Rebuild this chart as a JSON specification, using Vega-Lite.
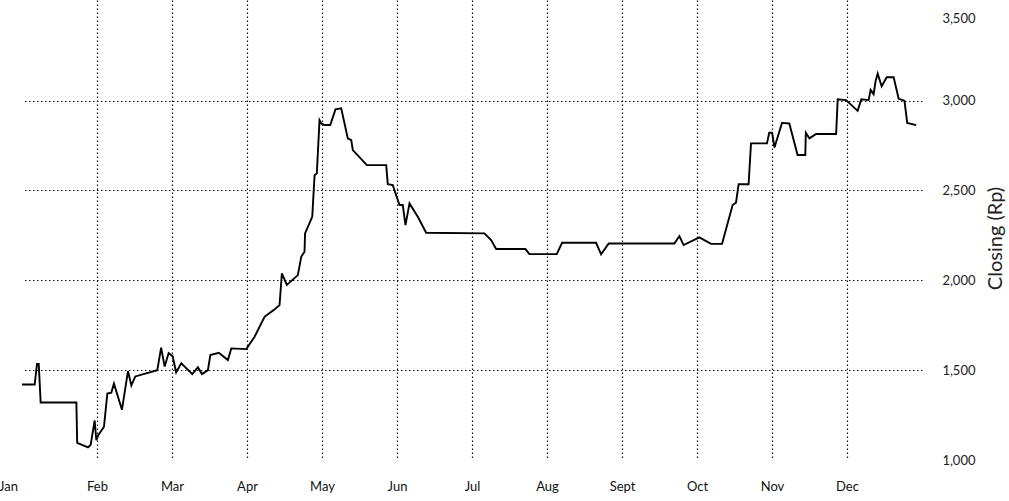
{
  "$schema": "https://vega.github.io/schema/vega-lite/v6.json",
  "width": 900,
  "height": 460,
  "autosize": {"type": "none"},
  "padding": {"left": 22, "top": 0, "right": 87, "bottom": 41},
  "background": "white",
  "config": {"view": {"stroke": null}, "font": "Lato"},
  "data": {"values": [
    {"month": 0.000, "close": 1420}, {"month": 0.169, "close": 1420}, {"month": 0.200, "close": 1535}, {"month": 0.223, "close": 1535},
    {"month": 0.249, "close": 1320}, {"month": 0.725, "close": 1320}, {"month": 0.736, "close": 1095}, {"month": 0.880, "close": 1070},
    {"month": 0.916, "close": 1085}, {"month": 0.969, "close": 1220}, {"month": 0.991, "close": 1110}, {"month": 1.013, "close": 1135},
    {"month": 1.093, "close": 1185}, {"month": 1.138, "close": 1370}, {"month": 1.191, "close": 1375}, {"month": 1.226, "close": 1425},
    {"month": 1.333, "close": 1280}, {"month": 1.413, "close": 1495}, {"month": 1.458, "close": 1415}, {"month": 1.511, "close": 1465},
    {"month": 1.804, "close": 1500}, {"month": 1.855, "close": 1625}, {"month": 1.902, "close": 1520}, {"month": 1.955, "close": 1595},
    {"month": 2.008, "close": 1578}, {"month": 2.055, "close": 1488}, {"month": 2.124, "close": 1538}, {"month": 2.271, "close": 1478},
    {"month": 2.345, "close": 1516}, {"month": 2.399, "close": 1478}, {"month": 2.479, "close": 1500}, {"month": 2.511, "close": 1584},
    {"month": 2.625, "close": 1597}, {"month": 2.745, "close": 1556}, {"month": 2.790, "close": 1621}, {"month": 2.990, "close": 1617},
    {"month": 3.101, "close": 1686}, {"month": 3.234, "close": 1797}, {"month": 3.265, "close": 1807}, {"month": 3.354, "close": 1834},
    {"month": 3.434, "close": 1862}, {"month": 3.465, "close": 2039}, {"month": 3.531, "close": 1974}, {"month": 3.678, "close": 2029},
    {"month": 3.723, "close": 2131}, {"month": 3.767, "close": 2159}, {"month": 3.774, "close": 2261}, {"month": 3.870, "close": 2354},
    {"month": 3.901, "close": 2585}, {"month": 3.931, "close": 2595}, {"month": 3.967, "close": 2891}, {"month": 3.990, "close": 2873},
    {"month": 4.034, "close": 2864}, {"month": 4.110, "close": 2864}, {"month": 4.180, "close": 2951}, {"month": 4.256, "close": 2957},
    {"month": 4.344, "close": 2790}, {"month": 4.390, "close": 2780}, {"month": 4.411, "close": 2725}, {"month": 4.598, "close": 2641},
    {"month": 4.856, "close": 2641}, {"month": 4.877, "close": 2535}, {"month": 4.944, "close": 2530}, {"month": 5.033, "close": 2419},
    {"month": 5.077, "close": 2419}, {"month": 5.113, "close": 2307}, {"month": 5.167, "close": 2428}, {"month": 5.277, "close": 2354},
    {"month": 5.389, "close": 2265}, {"month": 6.166, "close": 2261}, {"month": 6.255, "close": 2224}, {"month": 6.322, "close": 2174},
    {"month": 6.712, "close": 2174}, {"month": 6.766, "close": 2146}, {"month": 7.130, "close": 2146}, {"month": 7.201, "close": 2209},
    {"month": 7.655, "close": 2209}, {"month": 7.721, "close": 2145}, {"month": 7.823, "close": 2205}, {"month": 8.698, "close": 2205},
    {"month": 8.765, "close": 2246}, {"month": 8.822, "close": 2196}, {"month": 9.031, "close": 2239}, {"month": 9.187, "close": 2203},
    {"month": 9.334, "close": 2203}, {"month": 9.475, "close": 2419}, {"month": 9.520, "close": 2432}, {"month": 9.555, "close": 2535},
    {"month": 9.688, "close": 2535}, {"month": 9.720, "close": 2762}, {"month": 9.933, "close": 2762}, {"month": 9.963, "close": 2821},
    {"month": 10.002, "close": 2821}, {"month": 10.033, "close": 2739}, {"month": 10.077, "close": 2799}, {"month": 10.133, "close": 2876},
    {"month": 10.231, "close": 2873}, {"month": 10.341, "close": 2697}, {"month": 10.444, "close": 2697}, {"month": 10.451, "close": 2821},
    {"month": 10.499, "close": 2790}, {"month": 10.588, "close": 2814}, {"month": 10.855, "close": 2814}, {"month": 10.876, "close": 3007},
    {"month": 10.988, "close": 3003}, {"month": 11.142, "close": 2943}, {"month": 11.190, "close": 3007}, {"month": 11.288, "close": 3003},
    {"month": 11.315, "close": 3060}, {"month": 11.355, "close": 3036}, {"month": 11.382, "close": 3110}, {"month": 11.409, "close": 3150},
    {"month": 11.462, "close": 3080}, {"month": 11.529, "close": 3130}, {"month": 11.622, "close": 3130}, {"month": 11.689, "close": 3010},
    {"month": 11.766, "close": 3000}, {"month": 11.803, "close": 2876}, {"month": 11.923, "close": 2864}
  ]},
  "mark": {"type": "line", "color": "black", "strokeWidth": 1.9, "strokeJoin": "miter"},
  "encoding": {
    "x": {
      "field": "month",
      "type": "quantitative",
      "scale": {"domain": [0, 12], "nice": false, "zero": false},
      "axis": {
        "values": [0, 1, 2, 3, 4, 5, 6, 7, 8, 9, 10, 11],
        "title": null,
        "domain": false,
        "ticks": false,
        "grid": true,
        "gridDash": [1.5, 2.5],
        "gridColor": "#111",
        "gridWidth": 1.2,
        "gridOpacity": {"condition": {"test": "datum.value == 0", "value": 0}, "value": 1},
        "labelExpr": "['Jan','Feb','Mar','Apr','May','Jun','Jul','Aug','Sept','Oct','Nov','Dec'][datum.value]",
        "labelPadding": 20,
        "labelFontSize": 13,
        "labelColor": "#111",
        "labelFlush": false,
        "labelOffset": {"condition": {"test": "datum.value == 0", "value": -14}, "value": 0}
      }
    },
    "y": {
      "field": "close",
      "type": "quantitative",
      "scale": {"domain": [1000, 3560], "nice": false, "zero": false},
      "axis": {
        "orient": "right",
        "values": [1000, 1500, 2000, 2500, 3000, 3500],
        "format": ",d",
        "domain": false,
        "ticks": false,
        "grid": true,
        "gridDash": [1.5, 2.5],
        "gridColor": "#111",
        "gridWidth": 1.2,
        "gridOpacity": {"condition": {"test": "datum.value == 1000 || datum.value == 3500", "value": 0}, "value": 1},
        "labelAlign": "right",
        "labelPadding": 53,
        "labelFontSize": 13,
        "labelColor": "#222",
        "labelOffset": {"condition": {"test": "datum.value == 3500", "value": 8}, "value": 0},
        "title": "Closing (Rp)",
        "titleAngle": 270,
        "titleX": 73,
        "titleY": 238,
        "titleAlign": "center",
        "titleBaseline": "middle",
        "titleFontSize": 20,
        "titleFontWeight": "normal",
        "titleColor": "#222"
      }
    }
  }
}
